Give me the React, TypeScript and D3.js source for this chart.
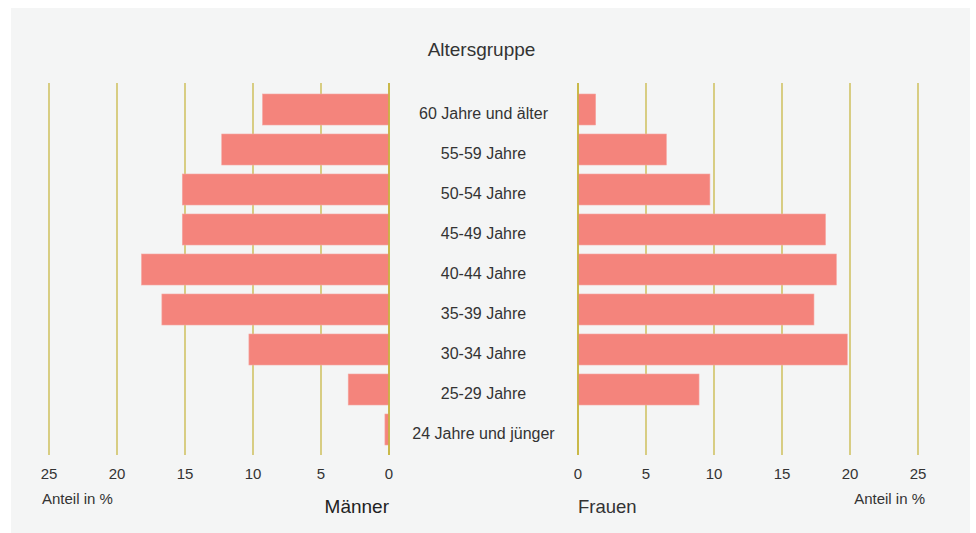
import React from "react";
import * as d3 from "d3";

const categories = [
  "60 Jahre und älter",
  "55-59 Jahre",
  "50-54 Jahre",
  "45-49 Jahre",
  "40-44 Jahre",
  "35-39 Jahre",
  "30-34 Jahre",
  "25-29 Jahre",
  "24 Jahre und jünger",
];
const maenner = [9.3, 12.3, 15.2, 15.2, 18.2, 16.7, 10.3, 3.0, 0.3];
const frauen = [1.3, 6.5, 9.7, 18.2, 19.0, 17.35, 19.8, 8.9, 0];
const ticks = [0, 5, 10, 15, 20, 25];

const W = 976;
const H = 533;
const FONT = "'Liberation Sans', Arial, sans-serif";
const TEXT = "#333333";
const GRID = "#c4b236";
const BAR = "#f4847c";

export default function App() {
  const xLeft = d3.scaleLinear().domain([0, 25]).range([389, 49]);
  const xRight = d3.scaleLinear().domain([0, 25]).range([578, 918]);
  const y = d3
    .scaleBand<string>()
    .domain(categories)
    .range([89.5, 449.5])
    .paddingInner(0.225)
    .paddingOuter(0.1125);
  const gridTop = 83;
  const gridBottom = 455;
  const midX = (xLeft(0) + xRight(0)) / 2;

  return (
    <svg
      width={W}
      height={H}
      style={{ position: "absolute", left: 0, top: 0, display: "block" }}
      fontFamily={FONT}
    >
      <rect x={0} y={0} width={W} height={H} fill="#ffffff" />
      <rect x={11} y={8} width={959} height={525} fill="#f4f5f5" />

      <text x={481.5} y={56} textAnchor="middle" fontSize={19} fill={TEXT}>
        Altersgruppe
      </text>

      {ticks.map((t) => (
        <g key={"gl" + t}>
          <line x1={xLeft(t)} x2={xLeft(t)} y1={gridTop} y2={gridBottom} stroke={GRID} strokeWidth={1.2} />
          <line x1={xRight(t)} x2={xRight(t)} y1={gridTop} y2={gridBottom} stroke={GRID} strokeWidth={1.2} />
        </g>
      ))}

      {categories.map((c, i) => (
        <g key={"b" + c}>
          {maenner[i] > 0 && (
            <rect
              x={xLeft(maenner[i])}
              y={y(c)!}
              width={xLeft(0) - xLeft(maenner[i])}
              height={y.bandwidth()}
              fill={BAR}
              stroke="#f5a7a2"
              strokeWidth={0.6}
            />
          )}
          {frauen[i] > 0 && (
            <rect
              x={xRight(0)}
              y={y(c)!}
              width={xRight(frauen[i]) - xRight(0)}
              height={y.bandwidth()}
              fill={BAR}
              stroke="#f5a7a2"
              strokeWidth={0.6}
            />
          )}
          <text
            x={midX}
            y={y(c)! + y.bandwidth() / 2 + 9}
            textAnchor="middle"
            fontSize={16}
            fill={TEXT}
          >
            {c}
          </text>
        </g>
      ))}

      <line x1={xLeft(0)} x2={xLeft(0)} y1={gridTop} y2={gridBottom} stroke={GRID} strokeWidth={1.5} />
      <line x1={xRight(0)} x2={xRight(0)} y1={gridTop} y2={gridBottom} stroke={GRID} strokeWidth={1.5} />

      {ticks.map((t) => (
        <g key={"tl" + t}>
          <text x={xLeft(t)} y={479} textAnchor="middle" fontSize={15} fill={TEXT}>
            {t}
          </text>
          <text x={xRight(t)} y={479} textAnchor="middle" fontSize={15} fill={TEXT}>
            {t}
          </text>
        </g>
      ))}

      <text x={42} y={504} textAnchor="start" fontSize={15} fill={TEXT}>
        Anteil in %
      </text>
      <text x={925} y={504} textAnchor="end" fontSize={15} fill={TEXT}>
        Anteil in %
      </text>
      <text x={389} y={513} textAnchor="end" fontSize={19} fill="#222">
        Männer
      </text>
      <text x={578} y={513} textAnchor="start" fontSize={18.5} fill={TEXT}>
        Frauen
      </text>
    </svg>
  );
}
